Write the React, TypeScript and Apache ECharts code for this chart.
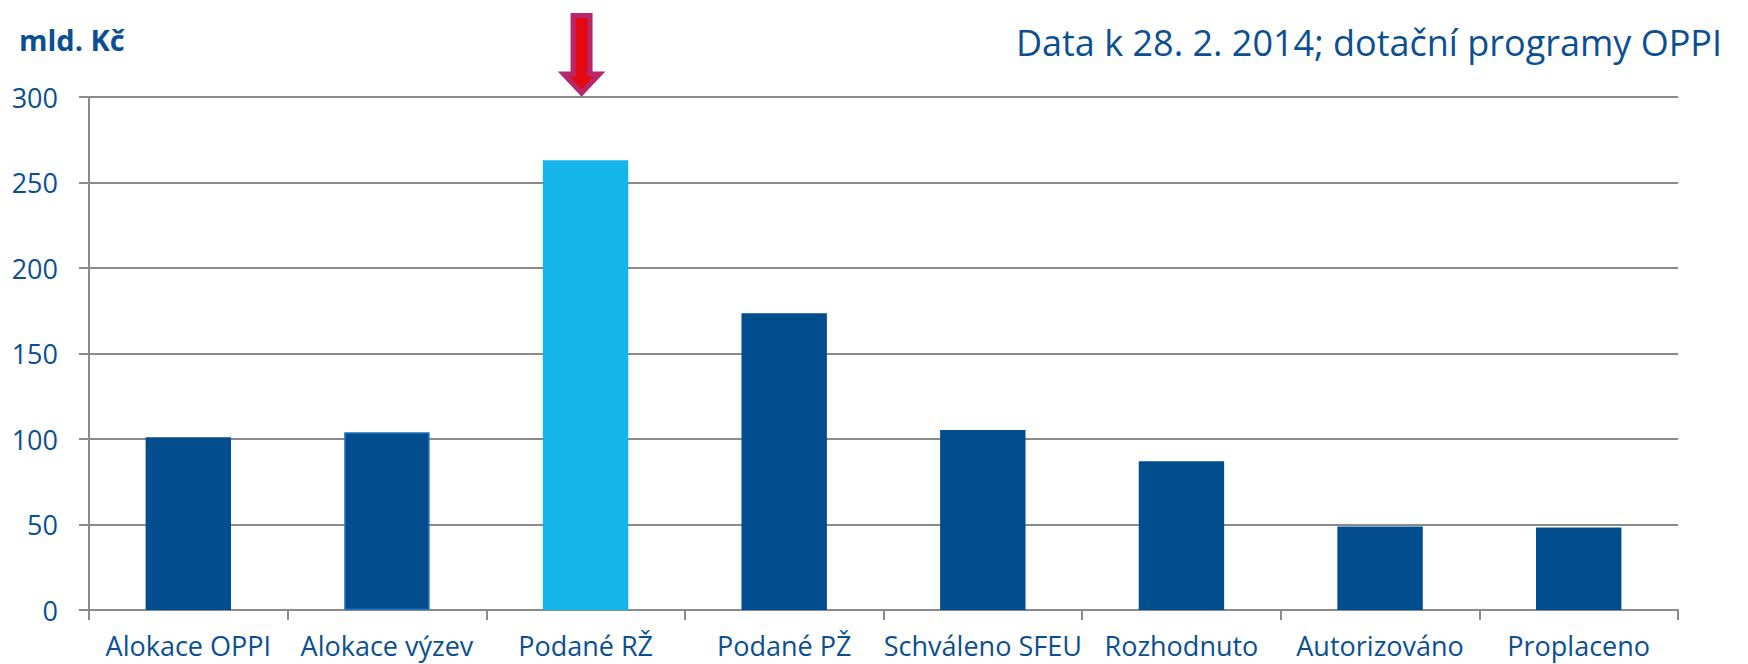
import React, { useEffect, useRef } from "react";
import * as echarts from "echarts";

const categories = [
  "Alokace OPPI",
  "Alokace výzev",
  "Podané RŽ",
  "Podané PŽ",
  "Schváleno SFEU",
  "Rozhodnuto",
  "Autorizováno",
  "Proplaceno",
];
const values = [101, 104, 263, 173.5, 105.3, 87, 48.9, 48.3];
const highlightIndex = 2;
const yTicks = { min: 0, max: 300, interval: 50 };
const unitLabel = "mld. Kč";
const titleText = "Data k 28. 2. 2014; dotační programy OPPI";

const DARK = "#024D8D";
const LIGHT = "#15B4E9";
const TEXT = "#0B4F93";
const GRID = "#8A8A8A";
const FONT = "'Open Sans', 'Noto Sans', sans-serif";

export default function App() {
  const ref = useRef<HTMLDivElement>(null);
  useEffect(() => {
    document.body.style.margin = "0";
    const chart = echarts.init(ref.current!, null, { renderer: "svg" });
    chart.setOption({
      animation: false,
      backgroundColor: "#ffffff",
      grid: { left: 89, right: 70, top: 97, bottom: 54, containLabel: false },
      xAxis: {
        type: "category",
        data: categories,
        boundaryGap: true,
        axisLine: { show: true, lineStyle: { color: GRID, width: 2 } },
        axisTick: { show: true, length: 10, lineStyle: { color: GRID, width: 2 } },
        axisLabel: {
          interval: 0,
          margin: 22,
          color: TEXT,
          fontFamily: FONT,
          fontSize: 27,
        },
      },
      yAxis: {
        type: "value",
        min: yTicks.min,
        max: yTicks.max,
        interval: yTicks.interval,
        axisLine: { show: true, lineStyle: { color: GRID, width: 2 } },
        axisTick: { show: true, length: 10, lineStyle: { color: GRID, width: 2 } },
        splitLine: { show: true, lineStyle: { color: GRID, width: 2 } },
        axisLabel: {
          margin: 31,
          color: TEXT,
          fontFamily: FONT,
          fontSize: 27,
        },
      },
      series: [
        {
          type: "bar",
          barWidth: "43%",
          data: values.map((v, i) => ({
            value: v,
            itemStyle:
              i === highlightIndex
                ? { color: LIGHT }
                : i === 1
                ? { color: DARK, borderColor: "#1C70C0", borderWidth: 1.5 }
                : { color: DARK },
          })),
        },
      ],
    });

    const cx = (chart.convertToPixel({ xAxisIndex: 0 }, categories[highlightIndex]) as number) - 4;
    const tipY = (chart.convertToPixel({ yAxisIndex: 0 }, yTicks.max) as number) - 4;
    const topY = 15.5;
    const headY = tipY - 19;
    chart.setOption({
      graphic: [
        {
          type: "text",
          left: 19,
          top: 25,
          style: {
            text: unitLabel,
            fill: TEXT,
            font: `bold 29px ${FONT}`,
          },
        },
        {
          type: "text",
          right: 26,
          top: 24,
          style: {
            text: titleText,
            fill: TEXT,
            font: `36px ${FONT}`,
          },
        },
        {
          type: "polygon",
          shape: {
            points: [
              [cx - 8.5, topY],
              [cx + 8.5, topY],
              [cx + 8.5, headY],
              [cx + 18, headY],
              [cx, tipY],
              [cx - 18, headY],
              [cx - 8.5, headY],
            ],
          },
          style: { fill: "#E30A12", stroke: "#B8266C", lineWidth: 5, lineJoin: "miter" },
          z: 100,
        },
      ],
    });
    return () => chart.dispose();
  }, []);
  return <div ref={ref} style={{ width: 1748, height: 664 }} />;
}
